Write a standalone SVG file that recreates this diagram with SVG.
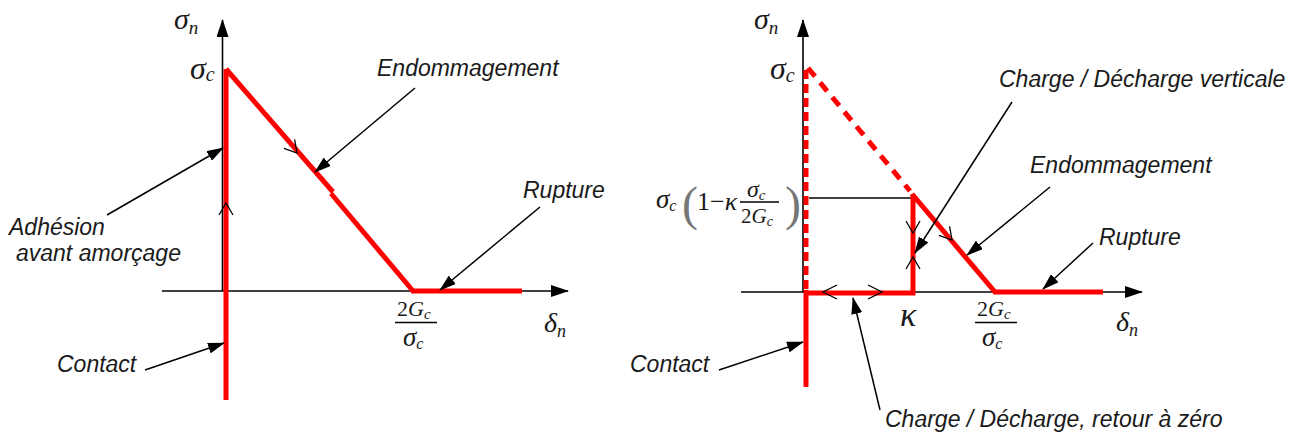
<svg xmlns="http://www.w3.org/2000/svg" width="1300" height="434" viewBox="0 0 1300 434">
<style>
.lbl{font-family:"Liberation Sans",Arial,sans-serif;font-style:italic;font-size:23px;fill:#1a1a1a}
.math{font-family:"Liberation Serif","Times New Roman",serif;font-style:italic;fill:#1a1a1a}
.rm{font-family:"Liberation Serif","Times New Roman",serif;fill:#1a1a1a}
.axis{stroke:#000;stroke-width:1.6;fill:none}
.red{stroke:#ff0000;stroke-width:5;fill:none}
.reddash{stroke:#ff0000;stroke-width:5;fill:none}
.conn{stroke:#000;stroke-width:1.5;fill:none}
.chev{stroke:#000;stroke-width:1.3;fill:none}
.thin{stroke:#000;stroke-width:1.6;fill:none}
.paren{font-family:"Liberation Serif","Times New Roman",serif;fill:#777}
</style>
<defs>
<marker id="axhead" viewBox="0 0 18 12" refX="17" refY="6" markerWidth="18" markerHeight="12" markerUnits="userSpaceOnUse" orient="auto"><path d="M0,0 L18,6 L0,12 z" fill="#000"/></marker>
<marker id="ah" viewBox="0 0 17 11" refX="16" refY="5.5" markerWidth="17" markerHeight="11" markerUnits="userSpaceOnUse" orient="auto"><path d="M0,0 L17,5.5 L0,11 z" fill="#000"/></marker>
</defs>

<!-- LEFT DIAGRAM -->
<g id="left-axes">
<line class="axis" x1="222.5" y1="291" x2="222.5" y2="20" marker-end="url(#axhead)"/>
<line class="axis" x1="162" y1="291" x2="568" y2="291" marker-end="url(#axhead)"/>
</g>
<g id="left-curve">
<line class="red" x1="226" y1="69" x2="226" y2="400"/>
<path class="red" d="M226,69 L333,192 M331,193.5 L413,291"/>
<line class="red" x1="411" y1="291" x2="522" y2="291"/>
</g>
<g id="left-flow">
<path class="chev" d="M-12,-7 L0,0 L-12,7" transform="translate(226,203) rotate(-90)"/>
<path class="chev" d="M-12,-7 L0,0 L-12,7" transform="translate(297,153) rotate(49.9)"/>
</g>
<g id="left-labels">
<text class="math" x="174" y="29" font-size="30">σ<tspan font-size="19" dy="5">n</tspan></text>
<text class="math" x="190" y="79" font-size="32">σ<tspan font-size="20" dy="2">c</tspan></text>
<text class="rm" x="397" y="316" font-size="22">2<tspan class="math">G</tspan><tspan class="math" font-size="15" dy="3">c</tspan></text>
<line class="thin" x1="395" y1="322.5" x2="437" y2="322.5"/>
<text class="math" x="403" y="346" font-size="27">σ<tspan font-size="16" dy="3">c</tspan></text>
<text class="math" x="544" y="332" font-size="28">δ<tspan font-size="18" dy="5">n</tspan></text>
</g>
<g id="left-endommagement"><text class="lbl" x="377" y="76">Endommagement</text></g>
<g id="left-rupture"><text class="lbl" x="523" y="198">Rupture</text></g>
<g id="left-adhesion"><text class="lbl" x="9" y="235">Adhésion</text><text class="lbl" x="16" y="261">avant amorçage</text></g>
<g id="left-contact"><text class="lbl" x="57" y="372">Contact</text></g>

<!-- RIGHT DIAGRAM -->
<g id="right-axes">
<line class="axis" x1="803" y1="292" x2="803" y2="20" marker-end="url(#axhead)"/>
<line class="axis" x1="741" y1="292" x2="1142" y2="292" marker-end="url(#axhead)"/>
<line class="thin" x1="809" y1="198" x2="912" y2="198"/>
</g>
<g id="right-curve">
<line class="reddash" x1="806" y1="70" x2="806" y2="292" stroke-dasharray="9 5"/>
<line class="reddash" x1="808" y1="68" x2="910" y2="191" stroke-dasharray="11 8" stroke-width="3.5"/>
<line class="red" x1="806" y1="290" x2="806" y2="387"/>
<polyline class="red" points="806,293 913,293 913,194"/>
<line class="red" x1="912" y1="194" x2="995" y2="292"/>
<line class="red" x1="993" y1="292" x2="1103" y2="292"/>
</g>
<g id="right-flow">
<path class="chev" d="M-12,-7 L0,0 L-12,7" transform="translate(913,233) rotate(90)"/>
<path class="chev" d="M-12,-7 L0,0 L-12,7" transform="translate(913,257) rotate(-90)"/>
<path class="chev" d="M-14,-7 L0,0 L-14,7" transform="translate(823,292) rotate(180)"/>
<path class="chev" d="M-14,-7 L0,0 L-14,7" transform="translate(882,292)"/>
<path class="chev" d="M-12,-7 L0,0 L-12,7" transform="translate(952,240) rotate(49.7)"/>
</g>
<g id="right-labels">
<text class="math" x="754" y="29" font-size="30">σ<tspan font-size="19" dy="5">n</tspan></text>
<text class="math" x="770" y="79" font-size="32">σ<tspan font-size="20" dy="3">c</tspan></text>
<text class="math" x="656" y="208" font-size="27">σ<tspan font-size="16" dy="3">c</tspan></text>
<text class="paren" x="682" y="220" font-size="48">(</text>
<text class="rm" x="697" y="210" font-size="26">1−<tspan class="math">κ</tspan></text>
<text class="math" x="747" y="197" font-size="24">σ<tspan font-size="15" dy="3">c</tspan></text>
<line class="thin" x1="740" y1="202" x2="779" y2="202" stroke-width="1.2"/>
<text class="rm" x="741" y="223" font-size="21">2<tspan class="math">G</tspan><tspan class="math" font-size="14" dy="3">c</tspan></text>
<text class="paren" x="785" y="220" font-size="48">)</text>
<text class="math" x="900" y="326" font-size="34">κ</text>
<text class="rm" x="977" y="316" font-size="22">2<tspan class="math">G</tspan><tspan class="math" font-size="15" dy="3">c</tspan></text>
<line class="thin" x1="975" y1="322.5" x2="1017" y2="322.5"/>
<text class="math" x="982" y="346" font-size="27">σ<tspan font-size="16" dy="3">c</tspan></text>
<text class="math" x="1116" y="331" font-size="28">δ<tspan font-size="18" dy="5">n</tspan></text>
</g>
<g id="right-charge-verticale"><text class="lbl" x="999" y="87">Charge / Décharge verticale</text></g>
<g id="right-endommagement"><text class="lbl" x="1030" y="173">Endommagement</text></g>
<g id="right-rupture"><text class="lbl" x="1099" y="245">Rupture</text></g>
<g id="right-contact"><text class="lbl" x="630" y="372">Contact</text></g>
<g id="right-retour"><text class="lbl" x="885" y="427">Charge / Décharge, retour à zéro</text></g>

<g id="connectors">
<line class="conn" x1="415" y1="88" x2="315" y2="172" marker-end="url(#ah)"/>
<line class="conn" x1="540" y1="207" x2="440" y2="290" marker-end="url(#ah)"/>
<line class="conn" x1="107" y1="215" x2="223" y2="148" marker-end="url(#ah)"/>
<line class="conn" x1="145" y1="370" x2="224" y2="343" marker-end="url(#ah)"/>
<line class="conn" x1="1012" y1="102" x2="915" y2="253" marker-end="url(#ah)"/>
<line class="conn" x1="1050" y1="187" x2="967" y2="255" marker-end="url(#ah)"/>
<line class="conn" x1="1093" y1="243" x2="1043" y2="289" marker-end="url(#ah)"/>
<line class="conn" x1="719" y1="370" x2="803" y2="342" marker-end="url(#ah)"/>
<line class="conn" x1="880" y1="410" x2="853" y2="298" marker-end="url(#ah)"/>
</g>
</svg>
